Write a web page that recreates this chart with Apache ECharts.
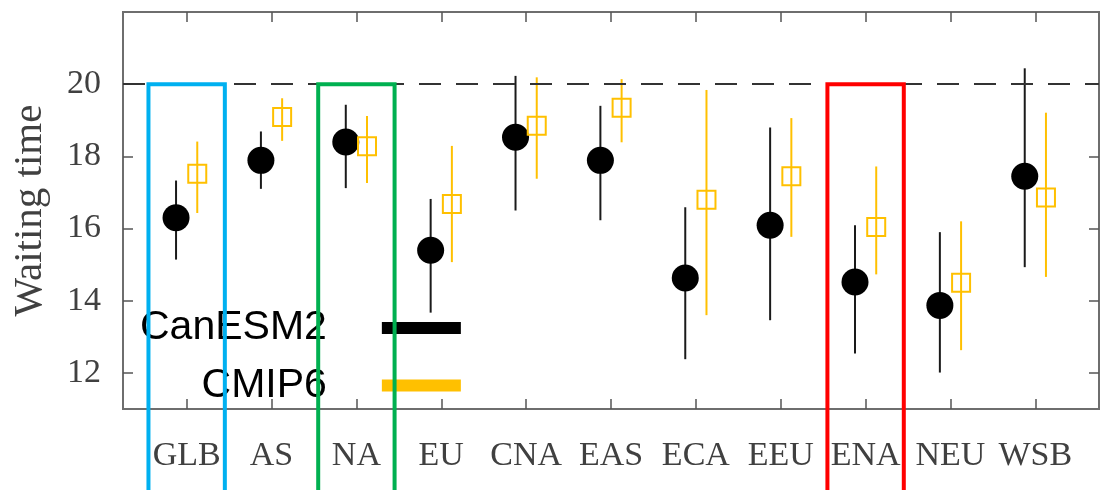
<!DOCTYPE html>
<html>
<head>
<meta charset="utf-8">
<script src="https://cdn.jsdelivr.net/npm/echarts@6/dist/echarts.min.js"></script>
<style>html,body{margin:0;padding:0;background:#fff}#c{width:1102px;height:490px}</style>
</head>
<body>
<div id="c"></div>
<script>
const categories = ['GLB','AS','NA','EU','CNA','EAS','ECA','EEU','ENA','NEU','WSB'];
const canMean = [16.30, 17.89, 18.40, 15.40, 18.53, 17.89, 14.63, 16.09, 14.52, 13.87, 17.45];
const canLow  = [15.14, 17.10, 17.12, 13.67, 16.50, 16.23, 12.38, 13.46, 12.54, 12.01, 14.93];
const canHigh = [17.33, 18.69, 19.43, 16.82, 20.23, 19.40, 16.59, 18.80, 16.09, 15.90, 20.44];
const cmipMean = [17.52, 19.09, 18.28, 16.68, 18.85, 19.35, 16.80, 17.45, 16.04, 14.50, 16.86];
const cmipLow  = [16.43, 18.43, 17.26, 15.07, 17.38, 18.39, 13.60, 15.77, 14.73, 12.63, 14.66];
const cmipHigh = [18.41, 19.61, 19.12, 18.29, 20.19, 20.14, 19.84, 19.06, 17.72, 16.20, 19.21];
const yTicks = [12, 14, 16, 18, 20];
const threshold = 20;
const highlightCats = ['GLB', 'NA', 'ENA'];

const highlightColors = ['#00B0F0', '#00B050', '#FF0000'];
const OFF = 0.125;
const BLACK = '#000000';
const GOLD = '#FFC000';
const xIdx = categories.map((c, i) => i);

function errRender(color) {
  return function (params, api) {
    const x = api.value(0);
    const p1 = api.coord([x, api.value(1)]);
    const p2 = api.coord([x, api.value(2)]);
    return {
      type: 'line',
      shape: {x1: p1[0], y1: p1[1], x2: p2[0], y2: p2[1]},
      style: {stroke: color, lineWidth: 2}
    };
  };
}

const chart = echarts.init(document.getElementById('c'), null, {renderer: 'canvas'});
const serif = 'Liberation Serif';
const axisCommon = {
  type: 'value',
  axisLine: {show: true, onZero: false, lineStyle: {color: '#6e6e6e', width: 2}},
  axisTick: {show: true, inside: true, length: 10, lineStyle: {color: '#555', width: 1.5}},
  splitLine: {show: false}
};

chart.setOption({
  animation: false,
  backgroundColor: '#ffffff',
  grid: {left: 123, right: 3, top: 12, bottom: 81, show: true, borderColor: '#6e6e6e', borderWidth: 2},
  xAxis: [
    Object.assign({}, axisCommon, {
      position: 'bottom', min: -0.75, max: 10.75,
      axisTick: Object.assign({}, axisCommon.axisTick, {customValues: xIdx}),
      axisLabel: {customValues: xIdx, formatter: v => categories[Math.round(v)], fontFamily: serif, fontSize: 34, color: '#404040', margin: 30}
    }),
    Object.assign({}, axisCommon, {
      position: 'top', min: -0.75, max: 10.75,
      axisTick: Object.assign({}, axisCommon.axisTick, {customValues: xIdx}),
      axisLabel: {show: false}
    })
  ],
  yAxis: [
    Object.assign({}, axisCommon, {
      position: 'left', min: 11, max: 22,
      name: 'Waiting time', nameLocation: 'middle', nameGap: 72,
      nameTextStyle: {fontFamily: serif, fontSize: 41, color: '#404040'},
      axisTick: Object.assign({}, axisCommon.axisTick, {customValues: yTicks}),
      axisLabel: {customValues: yTicks, fontFamily: serif, fontSize: 34, color: '#404040', margin: 22}
    }),
    Object.assign({}, axisCommon, {
      position: 'right', min: 11, max: 22,
      axisTick: Object.assign({}, axisCommon.axisTick, {customValues: yTicks}),
      axisLabel: {show: false}
    })
  ],
  legend: {
    orient: 'vertical', align: 'right', left: 140, top: 303, padding: 0,
    itemWidth: 79, itemHeight: 12, itemGap: 7.5,
    data: [
      {name: 'CanESM2', icon: 'rect', itemStyle: {color: BLACK, borderWidth: 0}},
      {name: 'CMIP6', icon: 'rect', itemStyle: {color: GOLD, borderWidth: 0}}
    ],
    textStyle: {fontFamily: 'Liberation Sans', fontSize: 41, lineHeight: 44, color: '#000', padding: [6, 50, 0, 0]},
    selectedMode: false
  },
  series: [
    {
      type: 'custom', name: 'CanESM2', renderItem: errRender('#1a1a1a'),
      data: categories.map((c, i) => [i - OFF, canLow[i], canHigh[i]]), z: 2,
      encode: {x: 0, y: [1, 2]}
    },
    {
      type: 'custom', name: 'CMIP6', renderItem: errRender(GOLD),
      data: categories.map((c, i) => [i + OFF, cmipLow[i], cmipHigh[i]]), z: 2,
      encode: {x: 0, y: [1, 2]}
    },
    {
      type: 'scatter', name: 'CanESM2', symbol: 'circle', symbolSize: 27,
      itemStyle: {color: BLACK, opacity: 1},
      data: categories.map((c, i) => [i - OFF, canMean[i]]), z: 3,
      markLine: {
        silent: true, symbol: 'none', label: {show: false},
        lineStyle: {color: '#333', width: 2, type: [22, 15]},
        data: [{yAxis: threshold}]
      }
    },
    {
      type: 'scatter', name: 'CMIP6', symbol: 'rect', symbolSize: 18,
      itemStyle: {color: 'rgba(0,0,0,0)', borderColor: GOLD, borderWidth: 2, opacity: 1},
      data: categories.map((c, i) => [i + OFF, cmipMean[i]]), z: 3
    },
    {
      type: 'custom', name: 'highlight', clip: false, z: 20, silent: true,
      data: highlightCats.map(c => [categories.indexOf(c)]),
      encode: {x: 0},
      renderItem: function (params, api) {
        const i = api.value(0);
        const p1 = api.coord([i - 0.45, threshold]);
        const p2 = api.coord([i + 0.45, 8.7]);
        return {
          type: 'rect',
          shape: {x: p1[0], y: p1[1], width: p2[0] - p1[0], height: p2[1] - p1[1]},
          style: {fill: 'none', stroke: highlightColors[params.dataIndex], lineWidth: 4}
        };
      }
    }
  ]
});
</script>
</body>
</html>
